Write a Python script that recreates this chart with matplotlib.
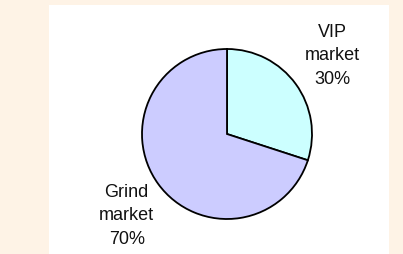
import matplotlib
matplotlib.use("Agg")
import matplotlib.pyplot as plt
from matplotlib.patches import Rectangle

labels = ["VIP\nmarket\n30%", "Grind\nmarket\n70%"]
shares = [30, 70]
colors = ["#CCFFFF", "#CCCCFF"]

W, H = 403, 255
cx, cy, r = 227, 135, 85  # pie centre / radius in pixels
# label centres, in units of the pie radius
label_pos = [(1.24, 0.93), (-1.18, -0.95)]

fig = plt.figure(figsize=(W / 100, H / 100), dpi=100, facecolor="#FEF3E6")
fig.patches.append(Rectangle((49 / W, 0), 340 / W, (H - 6) / H,
                             transform=fig.transFigure, facecolor="white",
                             edgecolor="none", zorder=-1))

ax = fig.add_axes([0, 0, 1, 1])
ax.set_facecolor("none")
wedges, texts = ax.pie(shares, labels=labels, colors=colors, startangle=90,
                       counterclock=False,
                       wedgeprops=dict(edgecolor="black", linewidth=1.3),
                       textprops=dict(family="Liberation Sans", fontsize=13,
                                      color="#111111", linespacing=1.5))
for t, pos in zip(texts, label_pos):
    t.set_position(pos)
    t.set_ha("center")
    t.set_va("center")
    t.set_multialignment("center")

ax.set_aspect("auto")
ax.set_xlim(-cx / r, (W - cx) / r)
ax.set_ylim(-(H - cy) / r, cy / r)
ax.axis("off")

fig.savefig("out.png", dpi=100, facecolor=fig.get_facecolor())
